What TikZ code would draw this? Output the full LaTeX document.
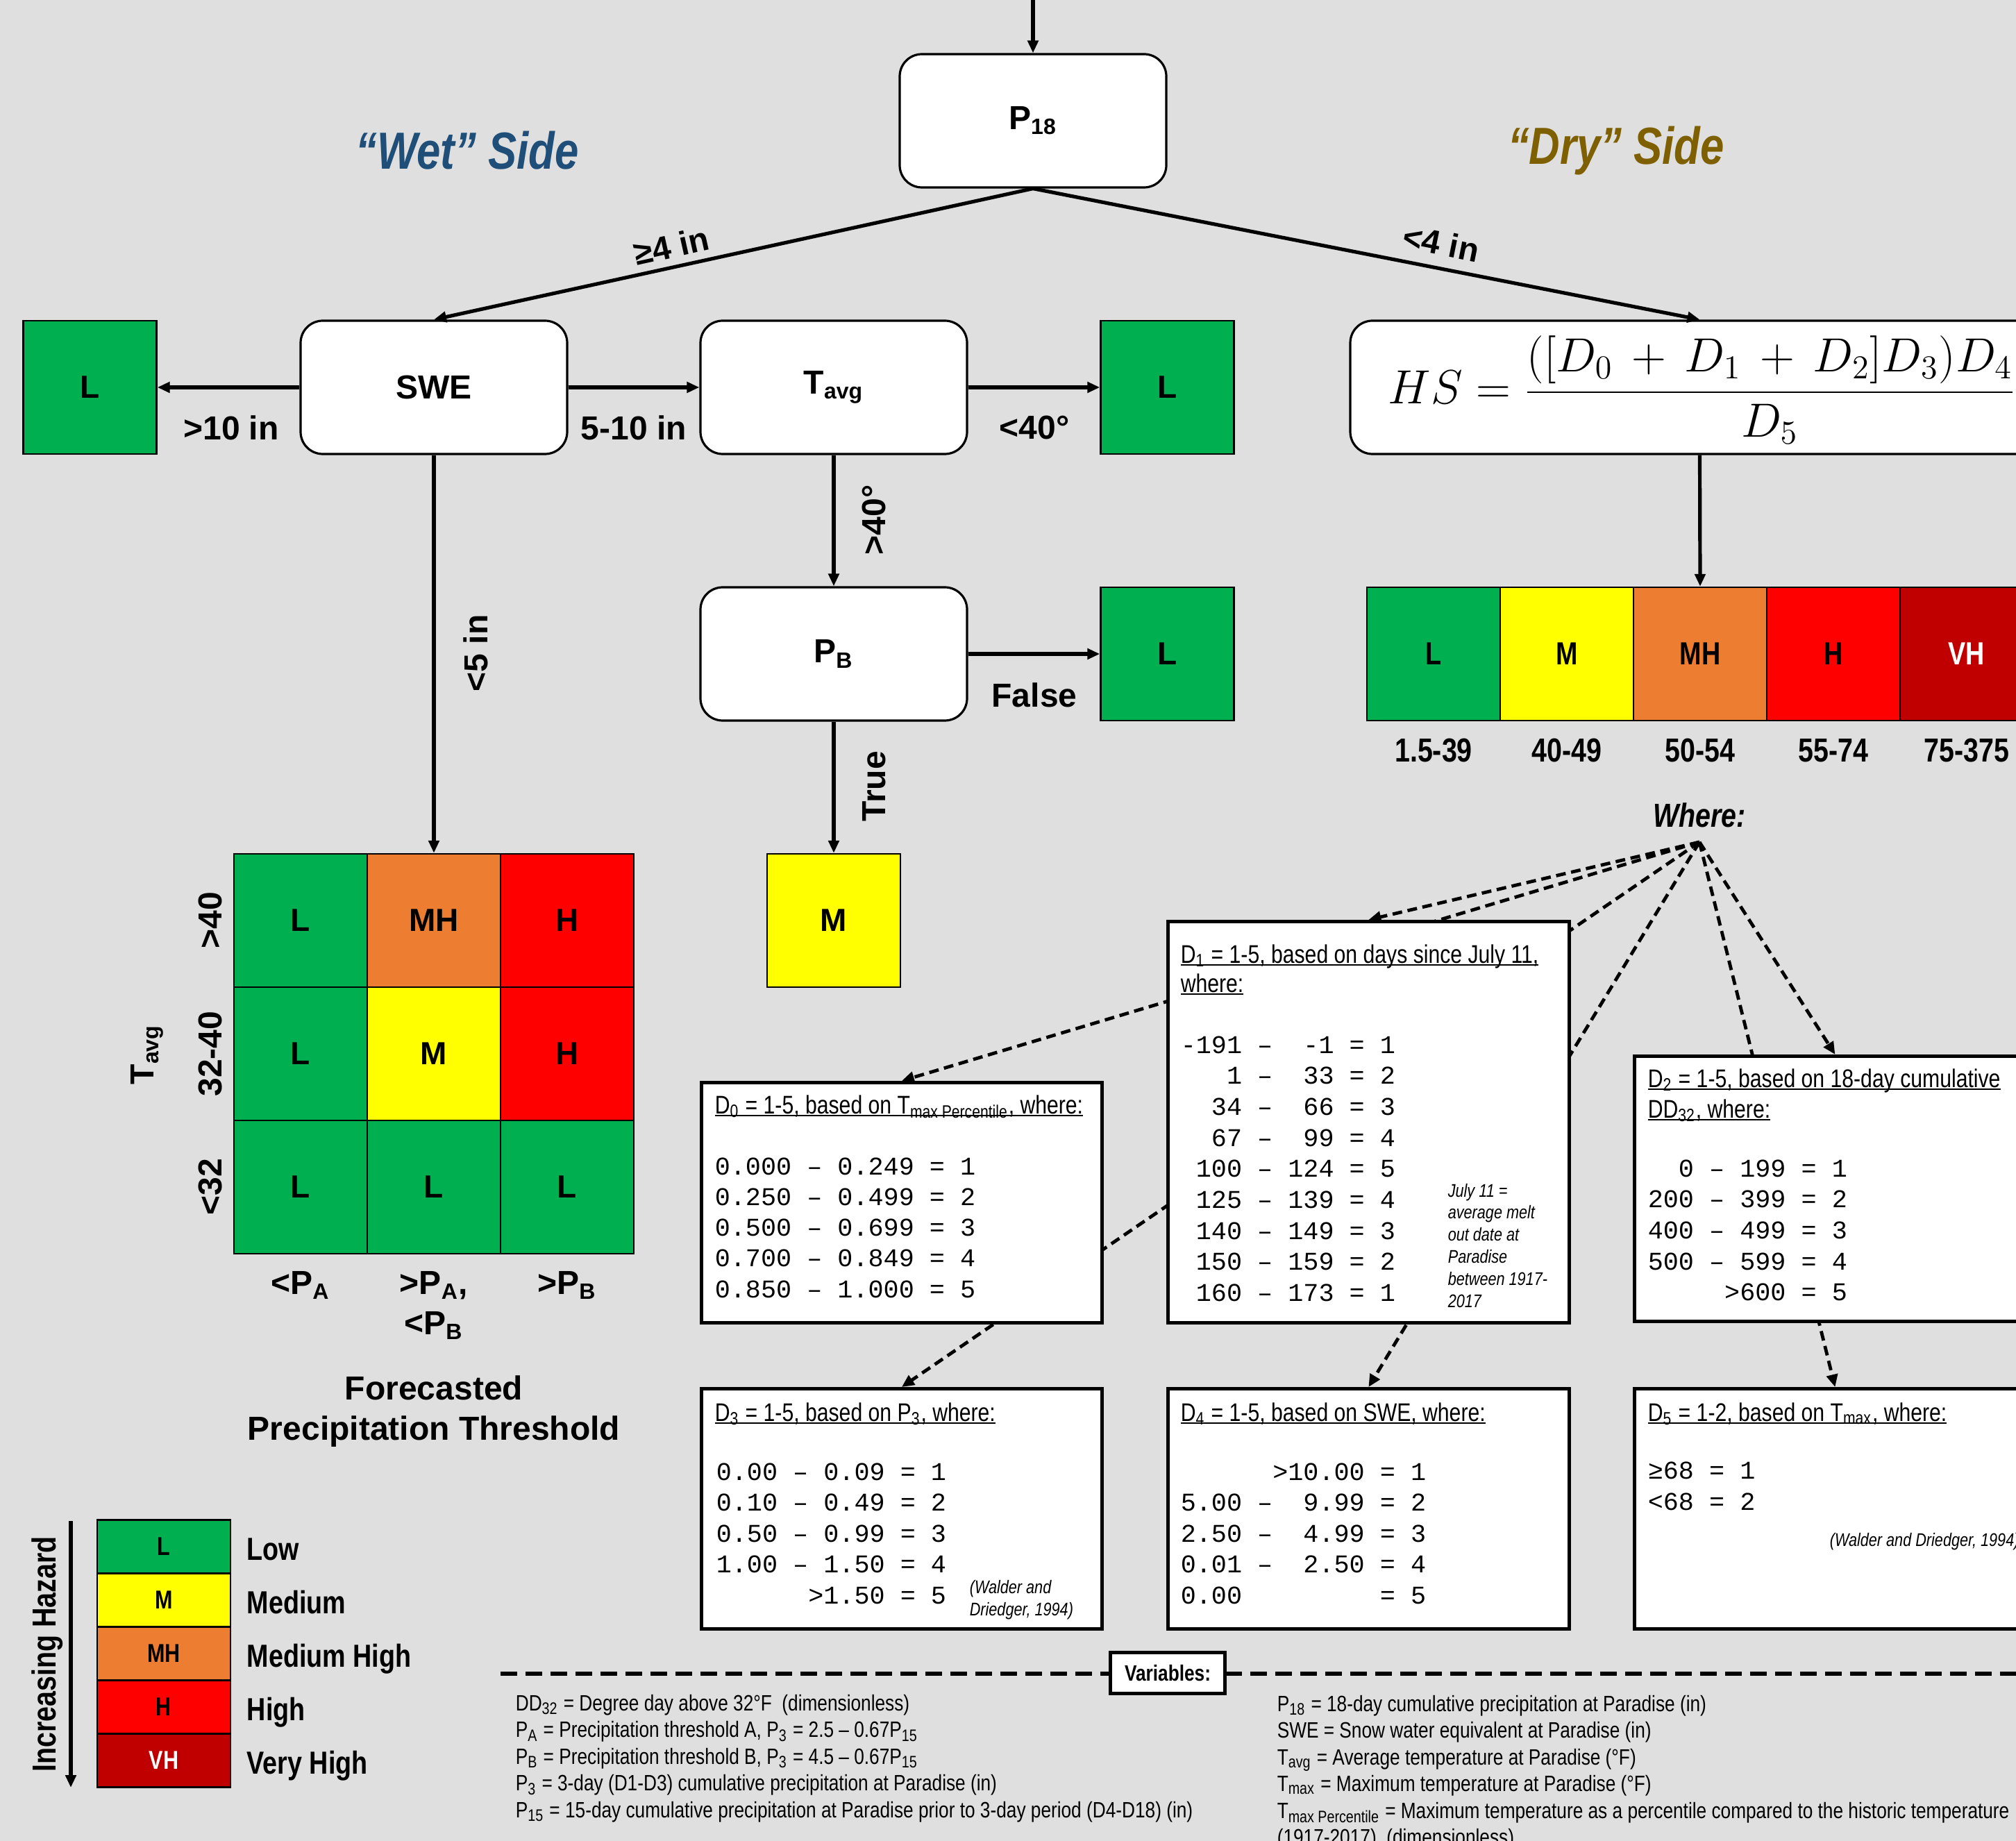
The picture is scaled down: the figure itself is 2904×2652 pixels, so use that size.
\documentclass[tikz,border=0pt]{standalone}
\usepackage[no-math]{fontspec}
\setmainfont{Liberation Sans}
\setmonofont{Liberation Mono}
\newfontfamily\narrow{Liberation Sans}[FakeStretch=0.82]
\usetikzlibrary{arrows.meta}
\pgfdeclarelayer{back}
\pgfdeclarelayer{lines}
\pgfsetlayers{back,lines,main}
\definecolor{bgc}{RGB}{223,223,223}
\definecolor{cL}{RGB}{0,176,80}
\definecolor{cM}{RGB}{255,255,0}
\definecolor{cMH}{RGB}{237,125,49}
\definecolor{cH}{RGB}{255,0,0}
\definecolor{cVH}{RGB}{192,0,0}
\definecolor{wetc}{RGB}{31,78,121}
\definecolor{dryc}{RGB}{127,96,0}
\newcommand\fsz[2]{\fontsize{#1}{#2}\selectfont}
\newsavebox\ulbox
\newcommand\undl[1]{\sbox\ulbox{#1}\rlap{\rule[-0.9pt]{\wd\ulbox}{0.45pt}}\usebox\ulbox}
\tikzset{
 arr/.style={line width=1.3pt, -{Triangle[length=4.5pt,width=3.8pt]}},
 fanline/.style={line width=1.2pt, dash pattern=on 3.5pt off 2pt, -{Triangle[length=4.5pt,width=4pt]}},
 vdash/.style={line width=1.5pt, dash pattern=on 6pt off 3pt},
 rbox/.style={draw, fill=white, rounded corners=8pt, line width=0.8pt, minimum width=96pt, minimum height=48pt, inner sep=0pt, font=\bfseries\fsz{12}{14}},
 cbox/.style={draw, line width=0.6pt, minimum width=48pt, minimum height=48pt, inner sep=0pt, font=\bfseries\fsz{11.5}{14}},
 lbl/.style={inner sep=0pt, font=\bfseries\fsz{12}{14}},
 nlbl/.style={inner sep=0pt, font=\narrow\bfseries\fsz{12}{14}},
 dbox/.style={draw, fill=white, line width=1.2pt, anchor=north west, inner sep=0pt},
 dtitle/.style={anchor=base west, inner sep=0pt, font=\narrow\fsz{9.2}{11}},
 mono/.style={anchor=base west, inner sep=0pt, font=\ttfamily\fsz{9.2}{11}},
 dnote/.style={anchor=base west, inner sep=0pt, font=\narrow\itshape\fsz{6.6}{8}},
 varl/.style={anchor=base west, inner sep=0pt, font=\narrow\fsz{8}{10}},
}
\begin{document}
\begin{tikzpicture}[x=0.25pt,y=-0.25pt]
\useasboundingbox (0,0) rectangle (2904,2652);
\begin{pgfonlayer}{back}
\fill[bgc] (0,0) rectangle (2904,2652);
\end{pgfonlayer}
\clip (0,0) rectangle (2904,2652);

% ---------- titles
\node[font=\narrow\bfseries\itshape\fsz{18.8}{22}, text=wetc] (wet) at (673,217) {“Wet” Side};
\node[font=\narrow\bfseries\itshape\fsz{18.8}{22}, text=dryc] (dry) at (2328,217) {“Dry” Side};

% ---------- decision nodes
\coordinate (top) at (1488,-20);
\node[rbox] (p18) at (1488,174) {P\textsubscript{18}};
\node[rbox] (swe) at (625,558) {SWE};
\node[rbox] (tavg) at (1201,558) {T\textsubscript{avg}};
\node[rbox] (pb) at (1201,942) {P\textsubscript{B}};
\node[rbox, minimum width=251.75pt] (hs) at (2448.5,558) {};
\node[anchor=base west, inner sep=0pt, font=\fsz{17.6}{20}] (hsf) at (1999,582) {$\displaystyle HS = \frac{([D_0\,+\,D_1\,+\,D_2]D_3)D_4}{D_5}$};

\node[cbox, fill=cL] (lw) at (129.5,558) {L};
\node[cbox, fill=cL] (lt) at (1681.5,558) {L};
\node[cbox, fill=cL] (lp) at (1681.5,942) {L};
\node[cbox, fill=cM] (mp) at (1201,1326) {M};

% ---------- grid
\node[cbox, fill=cL] (g11) at (433,1326) {L};
\node[cbox, fill=cMH] (g12) at (625,1326) {MH};
\node[cbox, fill=cH] (g13) at (817,1326) {H};
\node[cbox, fill=cL] (g21) at (433,1518) {L};
\node[cbox, fill=cM] (g22) at (625,1518) {M};
\node[cbox, fill=cH] (g23) at (817,1518) {H};
\node[cbox, fill=cL] (g31) at (433,1710) {L};
\node[cbox, fill=cL] (g32) at (625,1710) {L};
\node[cbox, fill=cL] (g33) at (817,1710) {L};
\node[lbl, rotate=90] (r1) at (303,1326) {>40};
\node[lbl, rotate=90] (r2) at (303,1518) {32-40};
\node[lbl, rotate=90] (r3) at (303,1710) {<32};
\node[lbl, rotate=90] (rt) at (212,1519) {T\textsubscript{avg}};
\node[lbl, anchor=base] (c1) at (433,1864) {<P\textsubscript{A}};
\node[lbl, anchor=base] (c2) at (625,1864) {>P\textsubscript{A},};
\node[lbl, anchor=base] (c2b) at (625,1922) {<P\textsubscript{B}};
\node[lbl, anchor=base] (c3) at (817,1864) {>P\textsubscript{B}};
\node[lbl, anchor=base] (ft1) at (625,2016) {Forecasted};
\node[lbl, anchor=base] (ft2) at (625,2074) {Precipitation Threshold};

% ---------- hazard bar
\node[cbox, fill=cL, font=\narrow\bfseries\fsz{11.5}{14}] (hb1) at (2065,942) {L};
\node[cbox, fill=cM, font=\narrow\bfseries\fsz{11.5}{14}] (hb2) at (2257,942) {M};
\node[cbox, fill=cMH, font=\narrow\bfseries\fsz{11.5}{14}] (hb3) at (2449,942) {MH};
\node[cbox, fill=cH, font=\narrow\bfseries\fsz{11.5}{14}] (hb4) at (2641,942) {H};
\node[cbox, fill=cVH, text=white, font=\narrow\bfseries\fsz{11.5}{14}] (hb5) at (2833,942) {VH};
\node[nlbl] (v1) at (2065,1081) {1.5-39};
\node[nlbl] (v2) at (2257,1081) {40-49};
\node[nlbl] (v3) at (2449,1081) {50-54};
\node[nlbl] (v4) at (2641,1081) {55-74};
\node[nlbl] (v5) at (2833,1081) {75-375};
\node[font=\narrow\bfseries\itshape\fsz{12}{14}] (where) at (2448,1174) {Where:};
\coordinate (fan) at (2448,1213);

% ---------- main connectors
\draw[arr] (top) -- (p18.north);
\draw[arr] (p18.south) -- (swe.north);
\draw[arr] (p18.south) -- (hs.north);
\draw[arr] (swe.west) -- (lw.east);
\draw[arr] (swe.east) -- (tavg.west);
\draw[arr] (tavg.east) -- (lt.west);
\draw[arr] (tavg.south) -- (pb.north);
\draw[arr] (pb.east) -- (lp.west);
\draw[arr] (pb.south) -- (mp.north);
\draw[arr] (swe.south) -- (g12.north);
\draw[arr] (hs.south) -- (hb3.north);

\node[lbl, rotate=12.6] (l4a) at (967,354) {≥4 in};
\node[lbl, rotate=-11.4] (l4b) at (2076,350) {<4 in};
\node[lbl] (l10) at (333,616) {>10 in};
\node[lbl] (l510) at (913,616) {5-10 in};
\node[lbl] (l40) at (1490,616) {<40°};
\node[lbl, rotate=90] (g40) at (1259,749) {>40°};
\node[lbl] (lf) at (1490,1001) {False};
\node[lbl, rotate=90] (ltr) at (1259,1133) {True};
\node[lbl, rotate=90] (l5) at (685,941) {<5 in};

% ---------- D boxes
\node[dbox, minimum width=144.25pt, minimum height=86.5pt] (d0) at (1008,1557) {};
\node[dtitle] (d0t) at (1029,1604) {\undl{D\textsubscript{0} = 1-5, based on T\textsubscript{max Percentile}, where:}};
\foreach \t [count=\i] in {0.000~–~0.249~=~1, 0.250~–~0.499~=~2, 0.500~–~0.699~=~3, 0.700~–~0.849~=~4, 0.850~–~1.000~=~5}
  \node[mono] (d0r\i) at (1029,{1692+44.3*(\i-1)}) {\t};

\node[dbox, minimum width=144.5pt, minimum height=144.5pt] (d1) at (1680,1325) {};
\node[dtitle] (d1t) at (1700,1387) {\undl{D\textsubscript{1} = 1-5, based on days since July 11,}};
\node[dtitle] (d1u) at (1700,1429) {\undl{where:}};
\foreach \t [count=\i] in {-191~–~~-1~=~1, ~~~1~–~~33~=~2, ~~34~–~~66~=~3, ~~67~–~~99~=~4, ~100~–~124~=~5, ~125~–~139~=~4, ~140~–~149~=~3, ~150~–~159~=~2, ~160~–~173~=~1}
  \node[mono] (d1r\i) at (1700,{1517+44.7*(\i-1)}) {\t};
\foreach \t [count=\i] in {July 11 =, average melt, out date at, Paradise, between 1917-, 2017}
  \node[dnote] (d1n\i) at (2085,{1724+31.8*(\i-1)}) {\t};

\node[dbox, minimum width=144.5pt, minimum height=95.5pt] (d2) at (2352,1519) {};
\node[dtitle] (d2t) at (2373,1566) {\undl{D\textsubscript{2} = 1-5, based on 18-day cumulative}};
\node[dtitle] (d2u) at (2373,1610) {\undl{DD\textsubscript{32}, where:}};
\foreach \t [count=\i] in {~~0~–~199~=~1, 200~–~399~=~2, 400~–~499~=~3, 500~–~599~=~4, ~~~~~>600~=~5}
  \node[mono] (d2r\i) at (2373,{1695+44.7*(\i-1)}) {\t};

\node[dbox, minimum width=144.25pt, minimum height=86.5pt] (d3) at (1008,1998) {};
\node[dtitle] (d3t) at (1029,2047) {\undl{D\textsubscript{3} = 1-5, based on P\textsubscript{3}, where:}};
\foreach \t [count=\i] in {0.00~–~0.09~=~1, 0.10~–~0.49~=~2, 0.50~–~0.99~=~3, 1.00~–~1.50~=~4, ~~~~~~>1.50~=~5}
  \node[mono] (d3r\i) at (1031,{2132+44.5*(\i-1)}) {\t};
\node[dnote] (d3n1) at (1396,2295) {(Walder and};
\node[dnote] (d3n2) at (1396,2327) {Driedger, 1994)};

\node[dbox, minimum width=144.5pt, minimum height=86.5pt] (d4) at (1680,1998) {};
\node[dtitle] (d4t) at (1700,2047) {\undl{D\textsubscript{4} = 1-5, based on SWE, where:}};
\foreach \t [count=\i] in {~~~~~~>10.00~=~1, 5.00~–~~9.99~=~2, 2.50~–~~4.99~=~3, 0.01~–~~2.50~=~4, 0.00~~~~~~~~~=~5}
  \node[mono] (d4r\i) at (1700,{2132+44.5*(\i-1)}) {\t};

\node[dbox, minimum width=144.5pt, minimum height=86.5pt] (d5) at (2352,1998) {};
\node[dtitle] (d5t) at (2373,2047) {\undl{D\textsubscript{5} = 1-2, based on T\textsubscript{max}, where:}};
\node[mono] (d5r1) at (2373,2130) {≥68~=~1};
\node[mono] (d5r2) at (2373,2175) {<68~=~2};
\node[dnote] (d5n) at (2635,2227) {(Walder and Driedger, 1994)};

% ---------- variables
\coordinate (vl) at (721,2411);
\coordinate (vr) at (2910,2411);
\node[draw, fill=white, line width=1.2pt, minimum width=41.25pt, minimum height=14.75pt, inner sep=0pt, font=\narrow\bfseries\fsz{8}{10}] (vars) at (1682,2410) {Variables:};
\foreach \t [count=\i] in {{DD\textsubscript{32} = Degree day above 32°F~ (dimensionless)},
  {P\textsubscript{A} = Precipitation threshold A, P\textsubscript{3} = 2.5 – 0.67P\textsubscript{15}},
  {P\textsubscript{B} = Precipitation threshold B, P\textsubscript{3} = 4.5 – 0.67P\textsubscript{15}},
  {P\textsubscript{3} = 3-day (D1-D3) cumulative precipitation at Paradise (in)},
  {P\textsubscript{15} = 15-day cumulative precipitation at Paradise prior to 3-day period (D4-D18) (in)}}
  \node[varl] (va\i) at (742,{2464+38.5*(\i-1)}) {\t};
\foreach \t [count=\i] in {{P\textsubscript{18} = 18-day cumulative precipitation at Paradise (in)},
  {SWE = Snow water equivalent at Paradise (in)},
  {T\textsubscript{avg} = Average temperature at Paradise (°F)},
  {T\textsubscript{max} = Maximum temperature at Paradise (°F)},
  {T\textsubscript{max Percentile} = Maximum temperature as a percentile compared to the historic temperature},
  {(1917-2017)~ (dimensionless)}}
  \node[varl] (vb\i) at (1839,{2465+38.5*(\i-1)}) {\t};

% ---------- legend
\node[cbox, fill=cL, minimum height=19.25pt, font=\narrow\bfseries\fsz{9.3}{11}] (lg1) at (236,2228) {L};
\node[cbox, fill=cM, minimum height=19.25pt, font=\narrow\bfseries\fsz{9.3}{11}] (lg2) at (236,2305) {M};
\node[cbox, fill=cMH, minimum height=19.25pt, font=\narrow\bfseries\fsz{9.3}{11}] (lg3) at (236,2382) {MH};
\node[cbox, fill=cH, minimum height=19.25pt, font=\narrow\bfseries\fsz{9.3}{11}] (lg4) at (236,2459) {H};
\node[cbox, fill=cVH, text=white, minimum height=19.25pt, font=\narrow\bfseries\fsz{9.3}{11}] (lg5) at (236,2536) {VH};
\foreach \t/\y [count=\i] in {Low/2247, Medium/2324, Medium High/2401, High/2478, Very High/2555}
  \node[font=\narrow\bfseries\fsz{11.5}{14}, anchor=base west, inner sep=0pt] (ll\i) at (355,\y) {\t};
\coordinate (ih1) at (102,2191);
\coordinate (ih2) at (102,2575);
\draw[arr] (ih1) -- (ih2);
\node[font=\narrow\bfseries\fsz{12}{14}, rotate=90] (ihz) at (68,2383) {Increasing Hazard};

% ---------- dashed connectors (behind boxes)
\begin{pgfonlayer}{lines}
\draw[fanline] (fan) -- (d0.north);
\draw[fanline] (fan) -- (d1.north);
\draw[fanline] (fan) -- (d2.north);
\draw[fanline] (fan) -- (d3.north);
\draw[fanline] (fan) -- (d4.north);
\draw[fanline] (fan) -- (d5.north);
\draw[vdash] (vl) -- (vr);
\end{pgfonlayer}
\end{tikzpicture}
\end{document}
